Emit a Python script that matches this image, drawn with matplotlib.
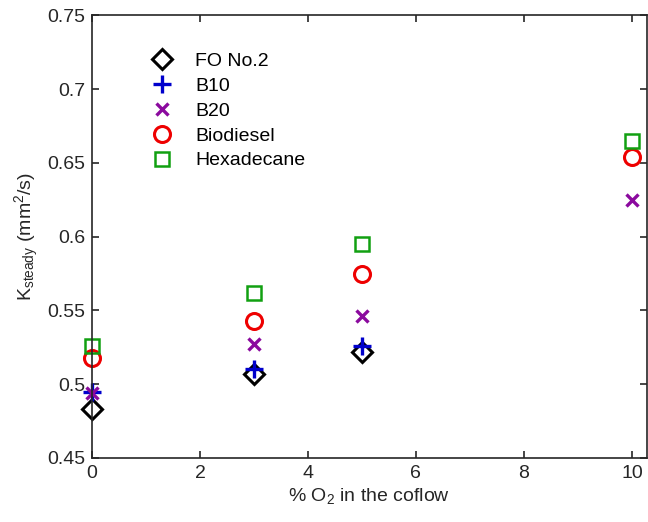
import matplotlib
matplotlib.use("Agg")
import matplotlib.pyplot as plt
from matplotlib.ticker import FuncFormatter

plt.rcParams['font.family'] = ['Liberation Sans', 'DejaVu Sans']
plt.rcParams['mathtext.fontset'] = 'custom'
plt.rcParams['mathtext.rm'] = 'Liberation Sans'
plt.rcParams['mathtext.it'] = 'Liberation Sans:italic'

o2 = [0, 3, 5, 10]
o2_short = [0, 3, 5]
fo2 = [0.483, 0.507, 0.522]
b10 = [0.495, 0.510, 0.526]
b20 = [0.494, 0.527, 0.546, 0.625]
biodiesel = [0.518, 0.543, 0.575, 0.654]
hexadecane = [0.526, 0.562, 0.595, 0.665]

labels = ['FO No.2', 'B10', 'B20', 'Biodiesel', 'Hexadecane']
xticks = [0, 2, 4, 6, 8, 10]
yticks = [0.45, 0.5, 0.55, 0.6, 0.65, 0.7, 0.75]

FS = 14

fig = plt.figure(figsize=(6.48, 5.22), dpi=100)
ax = fig.add_axes([92/648, 1 - 458/522, (647-92)/648, (458-15.3)/522])

ax.plot(o2_short, fo2, linestyle='none', marker='D', ms=10, mfc='none', mec='black', mew=2.2, label=labels[0], clip_on=False)
ax.plot(o2_short, b10, linestyle='none', marker='+', ms=13, mec='#0000CC', mew=2.4, label=labels[1], clip_on=False)
ax.plot(o2, b20, linestyle='none', marker='x', ms=9, mec='#8B0A9E', mew=2.4, label=labels[2], clip_on=False)
ax.plot(o2, biodiesel, linestyle='none', marker='o', ms=11.5, mfc='none', mec='#EE0000', mew=2.2, label=labels[3], clip_on=False)
ax.plot(o2, hexadecane, linestyle='none', marker='s', ms=10.5, mfc='none', mec='#11A011', mew=1.8, label=labels[4], clip_on=False)

ax.set_xlim(0, 10.28)
ax.set_ylim(0.45, 0.75)
ax.set_xticks(xticks)
ax.set_yticks(yticks)
ax.yaxis.set_major_formatter(FuncFormatter(lambda v, p: ('%g' % round(v, 4))))
ax.tick_params(direction='in', length=5, width=1.2, top=True, right=True,
               labelsize=FS, colors='#262626', pad=5)
for s in ax.spines.values():
    s.set_linewidth(1.2)
    s.set_color('#262626')

ax.set_xlabel('% O$_2$ in the coflow', fontsize=FS, color='#262626', labelpad=3)
ax.set_ylabel('K$_{\\mathregular{steady}}$ (mm$^2$/s)', fontsize=FS, color='#262626', labelpad=4)

leg = ax.legend(loc='upper left', bbox_to_anchor=(0.105, 0.916), frameon=False,
                fontsize=FS, labelspacing=0.37, handlelength=1.2, handletextpad=1.1,
                borderpad=0, borderaxespad=0)

fig.savefig('out.png', dpi=100)
